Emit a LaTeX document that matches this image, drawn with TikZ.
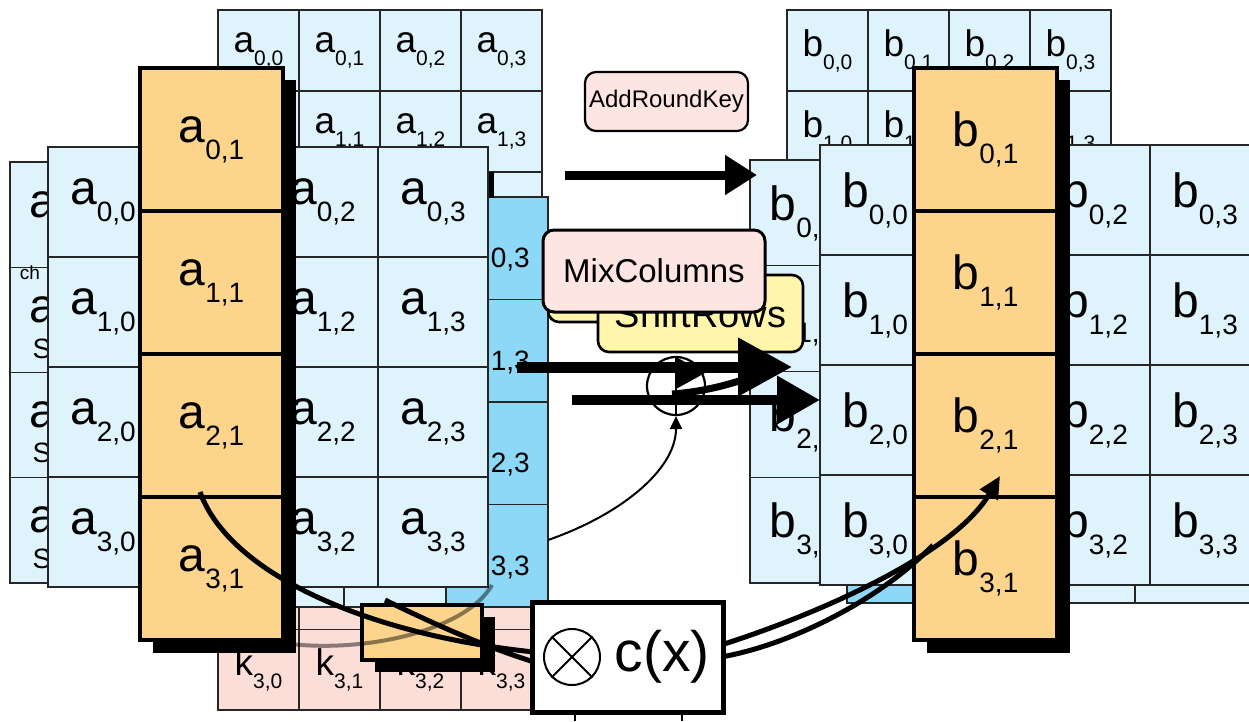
\documentclass[tikz,border=0pt]{standalone}
\usepackage{fontspec}
\setmainfont{Liberation Sans}
\usetikzlibrary{arrows.meta}
\definecolor{lblue}{RGB}{222,243,252}
\definecolor{dcyan}{RGB}{140,216,246}
\definecolor{orng}{RGB}{252,212,140}
\definecolor{kpink}{RGB}{252,222,217}
\definecolor{lpink}{RGB}{253,229,225}
\definecolor{ylw}{RGB}{255,246,172}
\newcommand{\biglbl}[2]{{\fontsize{48}{48}\selectfont #1}\raisebox{-17pt}{\fontsize{28}{28}\selectfont #2}}
\newcommand{\bigletter}[2]{{\fontsize{48}{48}\selectfont #1}\raisebox{-17pt}{\fontsize{28}{28}\selectfont\phantom{#2}}}
\newcommand{\bigsub}[2]{{\fontsize{48}{48}\selectfont\phantom{#1}}\raisebox{-17pt}{\fontsize{28}{28}\selectfont #2}}
\newcommand{\smlbl}[2]{{\fontsize{37}{37}\selectfont #1}\raisebox{-13pt}{\fontsize{21}{21}\selectfont #2}}
\begin{document}
\begin{tikzpicture}[x=1pt,y=-1pt,
  gc/.style={draw=black!85, line width=1.2pt, fill=lblue, inner sep=0pt},
  lb/.style={inner sep=0pt},
  oc/.style={draw=black, line width=3.5pt, fill=orng, inner sep=0pt, minimum width=143pt, minimum height=143pt},
  lbox/.style={draw=black, line width=2.6pt, rounded corners=11pt, inner sep=0pt},
  curve/.style={line width=5pt, black}]
\useasboundingbox (0,0) rectangle (1249,721);
\fill[white] (0,0) rectangle (1249,721);
\clip (0,0) rectangle (1249,721);

% small a grid (top left)
\foreach \r in {0,...,3}{\foreach \c in {0,...,3}{
  \node[gc, minimum width=81pt, minimum height=81pt] (sa\r\c) at ({258.5+81*\c},{50.5+81*\r}) {};}}
\foreach \r/\c in {0/0,0/1,0/2,0/3,1/1,1/2,1/3}{\node[lb] (sal\r\c) at (sa\r\c) {\smlbl{a}{\r,\c}};}
% small b grid (top right)
\foreach \r in {0,...,3}{\foreach \c in {0,...,3}{
  \node[gc, minimum width=81pt, minimum height=81pt] (sb\r\c) at ({827.5+81*\c},{50.5+81*\r}) {};}}
\foreach \r/\c in {0/0,0/1,0/2,0/3,1/0,1/1,1/3}{\node[lb] (sbl\r\c) at (sb\r\c) {\smlbl{b}{\r,\c}};}
% key grid
\foreach \r in {0,...,3}{\foreach \c in {0,...,3}{
  \node[gc, fill=kpink, minimum width=81pt, minimum height=80.5pt] (k\r\c) at ({258.5+81*\c},{428.25+80.5*\r}) {};}}
\foreach \c in {0,...,3}{\node[lb] (kl3\c) at (k3\c) {\smlbl{k}{3,\c}};}

% far-left grid
\foreach \r in {0,...,3}{\foreach \c in {0,...,3}{
  \node[gc, minimum width=105pt, minimum height=105.25pt] (fl\r\c) at ({62.5+105*\c},{214.6+105.25*\r}) {};}
  \node[lb] (fll\r) at (fl\r0) {\bigletter{a}{\r,0}};}
\node[lb, font=\fontsize{28}{28}\selectfont] (flS1) at (42,349) {S};
\node[lb, font=\fontsize{28}{28}\selectfont] (flS2) at (42,453) {S};
\node[lb, font=\fontsize{28}{28}\selectfont] (flS3) at (42,559) {S};
\node[lb, font=\fontsize{19}{19}\selectfont] (flch) at (30,273) {ch};

% grid behind main left grid, last column highlighted
\foreach \r in {0,...,3}{
  \foreach \c in {0,...,2}{
    \node[gc, minimum width=102pt, minimum height=102.5pt] (gb\r\c) at ({191+102*\c},{248.25+102.5*\r}) {};}
  \node[gc, fill=dcyan, minimum width=102pt, minimum height=102.5pt] (gb\r3) at (497,{248.25+102.5*\r}) {};
  \node[lb] (gbl\r) at (gb\r3) {\bigsub{a}{\r,3}};}
\fill (488,172) rectangle (494,198);

% right behind grid
\foreach \r in {0,...,3}{\foreach \c in {0,...,3}{
  \node[gc, minimum width=105pt, minimum height=105.75pt] (rb\r\c) at ({802.5+105*\c},{212.9+105.75*\r}) {};}}
\foreach \r in {0,2,3}{\node[lb] (rbl\r) at (rb\r0) {\biglbl{b}{\r,0}};}
\node[lb] (rbl1) at (rb10) {\bigsub{b}{1,0}};
% right strip below
\filldraw[fill=dcyan, draw=black!85, line width=1.2pt] (847,575) rectangle (960,603);
\filldraw[fill=lblue, draw=black!85, line width=1.2pt] (960,575) rectangle (1135,603);
\filldraw[fill=lblue, draw=black!85, line width=1.2pt] (1135,575) rectangle (1260,603);

% main left grid
\foreach \r in {0,...,3}{\foreach \c in {0,...,3}{
  \node[gc, minimum width=110pt, minimum height=110pt] (ml\r\c) at ({103+110*\c},{202+110*\r}) {};}
  \foreach \c in {0,2,3}{\node[lb] (mll\r\c) at (ml\r\c) {\biglbl{a}{\r,\c}};}}
% main right grid
\foreach \r in {0,...,3}{\foreach \c in {0,...,3}{
  \node[gc, minimum width=110pt, minimum height=110pt] (mr\r\c) at ({875+110*\c},{200+110*\r}) {};}
  \foreach \c in {0,2,3}{\node[lb] (mrl\r\c) at (mr\r\c) {\biglbl{b}{\r,\c}};}}

% small orange box at the bottom
\fill (375,617) rectangle (495,672);
\node[oc, minimum width=120pt, minimum height=55pt] (sob) at (422,632.5) {};
% grey arc
\draw[line width=4pt, black, opacity=0.45] (283,643) .. controls (360,654) and (465,632) .. (492,585);

% highlighted columns
\fill (153,80) rectangle (296,653);
\foreach \r in {0,...,3}{\node[oc] (lo\r) at (211.5,{139.5+143*\r}) {\biglbl{a}{\r,1}};}
\fill (927,80) rectangle (1070,653);
\foreach \r in {0,...,3}{\node[oc] (ro\r) at (985.5,{139.5+143*\r}) {\biglbl{b}{\r,1}};}

% operation labels
\node[lbox, fill=ylw, minimum width=152pt, minimum height=72pt] (hid) at (624,286) {};
\node[lbox, fill=ylw, minimum width=205pt, minimum height=77pt, font=\fontsize{38}{38}\selectfont] (shr) at (700.5,313.5) {ShiftRows};
\node[lbox, line width=3pt, fill=lpink, minimum width=222pt, minimum height=82pt, font=\fontsize{33}{33}\selectfont] (mix) at (654,271) {MixColumns};
\node[lbox, line width=2.2pt, fill=lpink, minimum width=163pt, minimum height=59pt, font=\fontsize{24}{24}\selectfont] (ark) at (666.5,101.5) {AddRoundKey};

% arrows
\coordinate (arkS) at (565,175); \coordinate (arkE) at (757,175);
\draw[line width=9pt, -{Triangle[length=32pt,width=38pt]}] (arkS) -- (arkE);
\coordinate (midS) at (517,367); \coordinate (midE) at (792,367);
\draw[line width=11pt, -{Triangle[length=54pt,width=56pt]}] (midS) -- (midE);
\coordinate (lowS) at (572,400); \coordinate (lowE) at (820,400);
\draw[line width=10pt, -{Triangle[length=43pt,width=46pt]}] (lowS) -- (lowE);
\node[circle, draw, line width=2.2pt, minimum size=58pt, inner sep=0pt] (xor) at (676,386) {};
\draw[line width=2.2pt] (xor.north) -- (xor.south);
\coordinate (slS) at (672,394); \coordinate (slE) at (748,378);
\draw[line width=7pt] (slS) .. controls (700,392) and (725,386) .. (slE);
\fill (676,357) -- (705,373) -- (676,389) -- cycle;
\coordinate (thS) at (548,540);
\draw[line width=2pt, -{Triangle[length=13pt,width=12pt]}] (thS) .. controls (620,515) and (676,470) .. (xor.south);

% curves to and from c(x)
\coordinate (c1S) at (200,492); \coordinate (c1E) at (534,652);
\draw[curve] (c1S) .. controls (230,575) and (370,635) .. (c1E);
\coordinate (c2S) at (385,600); \coordinate (c2E) at (534,662);
\draw[curve] (c2S) .. controls (430,622) and (480,645) .. (c2E);
\coordinate (r1S) at (721,645); \coordinate (r1E) at (1000,476);
\draw[curve, -{Triangle[length=22pt,width=20pt]}] (r1S) .. controls (800,620) and (950,560) .. (r1E);
\coordinate (r2S) at (721,657); \coordinate (r2E) at (933,545);
\draw[curve] (r2S) .. controls (790,645) and (880,600) .. (r2E);

% c(x) box
\node[draw, line width=5pt, fill=white, minimum width=191pt, minimum height=110pt, inner sep=0pt] (cx) at (627.5,657) {};
\node[circle, draw, line width=2pt, minimum size=56pt, inner sep=0pt] (otimes) at (572,657) {};
\draw[line width=2pt] (otimes.north west) -- (otimes.south east);
\draw[line width=2pt] (otimes.north east) -- (otimes.south west);
\node[lb, font=\fontsize{57}{57}\selectfont] (cxt) at (662,657) {c(x)};
\coordinate (bl1) at (575,721); \coordinate (bl2) at (682,721);
\draw[line width=1.8pt] (cx.south -| bl1) -- (bl1);
\draw[line width=1.8pt] (cx.south -| bl2) -- (bl2);
\end{tikzpicture}
\end{document}
